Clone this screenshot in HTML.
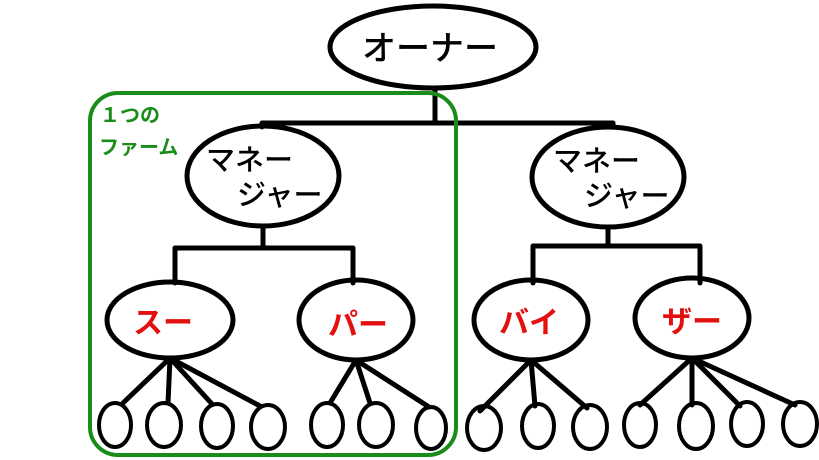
<!DOCTYPE html>
<html><head><meta charset="utf-8"><style>body{margin:0;background:#fff}svg{display:block}text{font-family:"Liberation Sans","Noto Sans CJK JP",sans-serif}</style></head><body>
<svg width="819" height="460" viewBox="0 0 819 460">
<g fill="none" stroke="#000" stroke-width="5" stroke-linecap="round">
<ellipse cx="433" cy="47" rx="103" ry="41"/>
<path d="M435 88V123M262 123H613M262 123V127M613 123V127"/>
<ellipse cx="263" cy="176" rx="76" ry="50"/>
<ellipse cx="608" cy="177" rx="76" ry="50"/>
<path d="M263 226V248M175 248H353M175 248V283M353 248V283"/>
<path d="M608 227V246M533 246H700M533 246V283M700 246V283"/>
<ellipse cx="170" cy="320" rx="63" ry="38"/>
<ellipse cx="356" cy="320" rx="57" ry="40"/>
<ellipse cx="531" cy="320" rx="57" ry="40"/>
<ellipse cx="692" cy="318" rx="57" ry="40"/>
<path d="M170 358L123 403M170 358L168 403M170 358L212 404M170 358L260 406"/>
<path d="M356 360L330 403M356 360L370 403M356 360L429 407"/>
<path d="M531 360L480 411M531 360L535 406M531 360L587 408"/>
<path d="M692 358L640 405M692 358L692 405M692 358L740 406M692 358L795 405"/>
<g stroke-width="4">
<ellipse cx="115" cy="425" rx="16" ry="22"/>
<ellipse cx="164" cy="425" rx="17" ry="22"/>
<ellipse cx="217" cy="426" rx="16" ry="22"/>
<ellipse cx="268" cy="427" rx="17" ry="22"/>
<ellipse cx="327" cy="425" rx="16" ry="22"/>
<ellipse cx="376" cy="425" rx="17" ry="22"/>
<ellipse cx="431" cy="428" rx="15" ry="21"/>
<ellipse cx="484" cy="428" rx="17" ry="22"/>
<ellipse cx="538" cy="426" rx="16" ry="22"/>
<ellipse cx="590" cy="427" rx="17" ry="22"/>
<ellipse cx="640" cy="425" rx="16" ry="22"/>
<ellipse cx="696" cy="426" rx="17" ry="23"/>
<ellipse cx="747" cy="424" rx="16" ry="22"/>
<ellipse cx="800" cy="424" rx="17" ry="22"/>
</g>
</g>
<rect x="90" y="93" width="366" height="362" rx="28" fill="none" stroke="#1a8c1a" stroke-width="4"/>
<g font-size="34" fill="#000" font-weight="500">
<text x="362" y="60">オーナー</text>
<text x="206" y="170" font-size="29">マネー</text>
<text x="237" y="205" font-size="29">ジャー</text>
<text x="553" y="171" font-size="29">マネー</text>
<text x="584" y="206" font-size="29">ジャー</text>
</g>
<g font-size="30" font-weight="bold" fill="#e31010">
<text x="133" y="333">スー</text>
<text x="328" y="335">パー</text>
<text x="499" y="333">バイ</text>
<text x="662" y="332">ザー</text>
</g>
<g font-size="20" font-weight="bold" fill="#1a8c1a">
<text x="100" y="122">１つの</text>
<text x="99" y="154">ファーム</text>
</g>
</svg>
</body></html>
